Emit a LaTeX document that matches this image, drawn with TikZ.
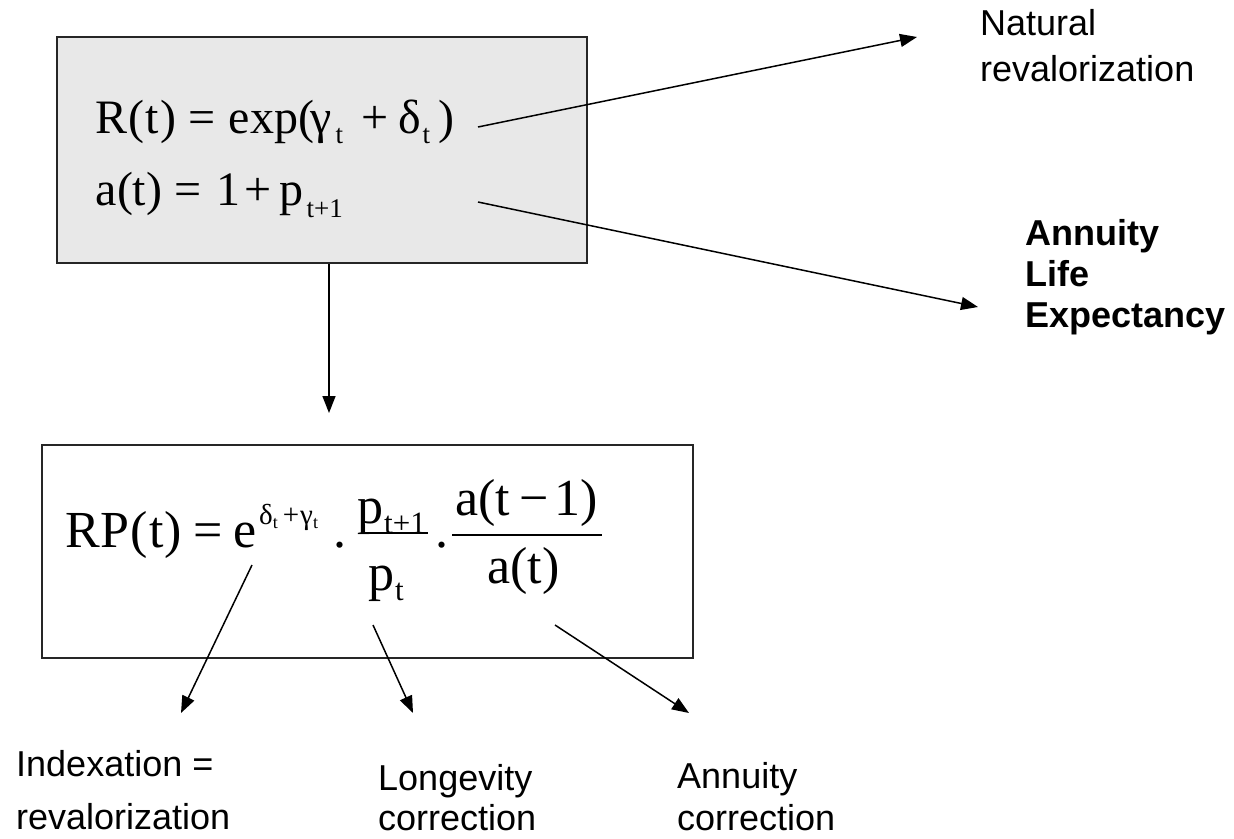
\documentclass[tikz,border=0pt]{standalone}
\usepackage{graphicx}
\usepackage{fontspec}
\setmainfont{Liberation Sans}
\newfontfamily\tms{Liberation Serif}
\usetikzlibrary{arrows.meta}
\definecolor{boxgray}{HTML}{E8E8E8}
% formula fonts
\newcommand\topf{\tms\fontsize{48}{52}\selectfont}
\newcommand\lowf{\tms\fontsize{52}{56}\selectfont}
\newcommand\supf{\tms\fontsize{29}{30}\selectfont}
\newcommand\sbt[2]{\raisebox{-#1}{\tms\fontsize{27}{28}\selectfont #2}}
\newcommand\sbs[1]{\raisebox{-4pt}{\tms\fontsize{18}{18}\selectfont #1}}
\newcommand\putat[2]{\rlap{\hspace{#1}#2}}
\tikzset{
  boxA/.style={draw=black!85, line width=2pt, anchor=north west, inner sep=0pt},
  arr/.style={line width=1.5pt, -{Triangle[length=17pt,width=13pt]}},
  lbl/.style={anchor=base west, inner sep=0pt, align=left},
  eq/.style={anchor=base west, inner sep=0pt},
  fbar/.style={line width=2pt},
}
\begin{document}
\begin{tikzpicture}[x=1pt,y=-1pt]
\useasboundingbox (0,0) rectangle (1234,838);
% ---------- top box ----------
\node (topbox) [boxA, fill=boxgray, minimum width=530pt, minimum height=226pt] at (56,36) {};
\node (eqR) [eq] at (95,133) {\topf
  \putat{0pt}{R\kern1pt(\kern1pt t\kern1pt)}%
  \putat{93pt}{=}%
  \putat{133pt}{exp(}%
  \putat{215pt}{γ}%
  \putat{240pt}{\sbt{10pt}{t}}%
  \putat{266pt}{+}%
  \putat{303pt}{δ}%
  \putat{327pt}{\sbt{10pt}{t}}%
  \putat{343pt}{)}\hspace{358pt}};
\node (eqa) [eq] at (95,205) {\topf
  \putat{0pt}{a(t)}%
  \putat{79pt}{=}%
  \putat{121pt}{1}%
  \putat{149pt}{+}%
  \putat{184pt}{p}%
  \putat{211pt}{\sbt{12pt}{t+1}}\hspace{245pt}};
% ---------- right labels ----------
\node (nat) [lbl, font=\fontsize{36}{46}\selectfont] at (980,81) {Natural\\revalorization};
\node (ann) [lbl, font=\fontsize{36}{41}\selectfont\bfseries] at (1025,327) {Annuity\\Life\\Expectancy};
\coordinate (s1) at (478,127);
\coordinate (t1) at (917,37);
\coordinate (s2) at (478,202);
\coordinate (t2) at (978,307);
\draw[arr] (s1) -- (t1);
\draw[arr] (s2) -- (t2);
% ---------- vertical arrow ----------
\coordinate (vt) at (329,413);
\draw[arr] (vt |- topbox.south) -- (vt);
% ---------- lower box ----------
\node (lowbox) [boxA, fill=white, minimum width=651pt, minimum height=213pt] at (41,444) {};
\node (rp) [eq] at (65,547) {\lowf R\kern1pt P\kern1pt(\kern1pt t\kern1pt)};
\node (eqs) [eq] at (193,547) {\lowf =};
\node (ee) [eq] at (233,547) {\lowf e};
\node (sup) [eq] at (259,524) {\supf δ\sbs{t}\hspace{5pt}+\hspace{1pt}γ\sbs{t}};
\node (dot1) [eq] at (333,547) {\lowf .};
\node (n1) [eq] at (357,523) {\lowf p\kern1pt\sbt{10pt}{\fontsize{31}{32}\selectfont t+1}};
\node (d1) [eq] at (368,590) {\lowf p\kern1pt\sbt{10pt}{\fontsize{31}{32}\selectfont t}};
\draw[fbar] (362,533) -- (428,533);
\node (dot2) [eq] at (435,547) {\lowf .};
\node (n2) [eq] at (455,515) {\lowf a(t\hspace{9pt}−\hspace{6pt}1)};
\node (d2) [eq] at (487,583) {\lowf a(t)};
\draw[fbar] (452,535) -- (602,535);
% ---------- bottom arrows ----------
\coordinate (s3) at (252,565);
\coordinate (t3) at (181,713);
\coordinate (s4) at (373,625);
\coordinate (t4) at (413,713);
\coordinate (s5) at (555,625);
\coordinate (t5) at (689,713);
\draw[arr] (s3) -- (t3);
\draw[arr] (s4) -- (t4);
\draw[arr] (s5) -- (t5);
% ---------- bottom labels ----------
\node (idx) [lbl, font=\fontsize{36}{53}\selectfont] at (16,829) {Indexation =\\revalorization};
\node (lon) [lbl, font=\fontsize{36}{40}\selectfont] at (378,830) {Longevity\\correction};
\node (anc) [lbl, font=\fontsize{36}{42}\selectfont] at (677,830) {Annuity\\correction};
\end{tikzpicture}
\end{document}
